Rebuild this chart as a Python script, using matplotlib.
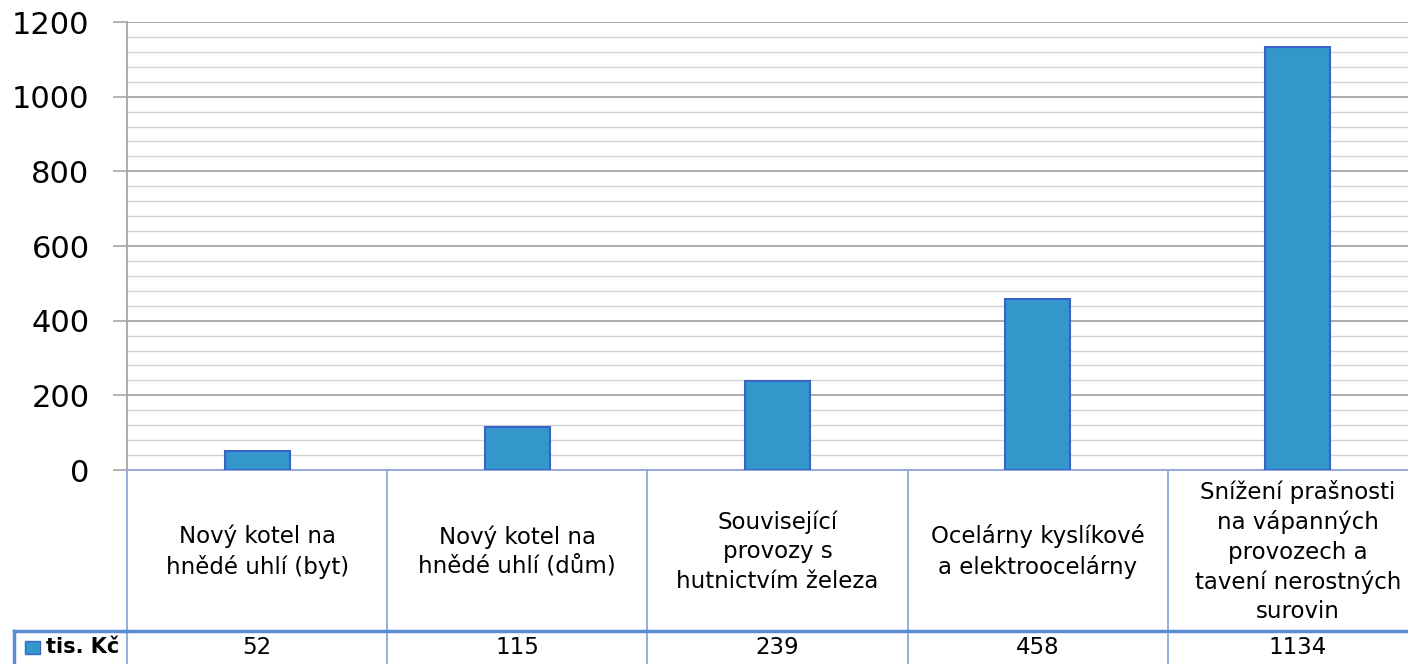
import matplotlib.pyplot as plt
import matplotlib.transforms as mtransforms
from matplotlib.patches import Rectangle

# data
categories = ['Nový kotel na\nhnědé uhlí (byt)',
              'Nový kotel na\nhnědé uhlí (dům)',
              'Související\nprovozy s\nhutnictvím železa',
              'Ocelárny kyslíkové\na elektroocelárny',
              'Snížení prašnosti\nna vápanných\nprovozech a\ntavení nerostných\nsurovin']
values = [52, 115, 239, 458, 1134]
series_name = 'tis. Kč'
yticks = [0, 200, 400, 600, 800, 1000, 1200]

bar_color = '#3397CC'
edge_color = '#3A63C8'
table_color = '#8FA8DC'

plt.rcParams['font.family'] = ['DejaVu Sans']

fig = plt.figure(figsize=(14.08, 6.64), dpi=100)
W, H = 1408, 664
# the axes runs past the right edge of the picture, like the reference
ax = fig.add_axes([127 / W, 1 - 470 / H, (1428 - 127) / W, (470 - 22) / H])

x = list(range(len(values)))
ax.bar(x, values, width=0.25, color=bar_color, edgecolor=edge_color, linewidth=1.5, zorder=3)
ax.set_xlim(-0.5, len(values) - 0.5)
ax.set_ylim(0, 1200)

ax.set_yticks(yticks)
ax.set_yticklabels([str(v) for v in yticks], fontsize=22)
ax.set_yticks(range(0, 1201, 40), minor=True)
ax.tick_params(axis='y', which='major', length=10, color='#A6A6A6', width=1.2, pad=17)
ax.tick_params(axis='y', which='minor', length=0)
ax.set_xticks([])
ax.grid(axis='y', which='major', color='#A6A6A6', linewidth=1.3, zorder=0)
ax.grid(axis='y', which='minor', color='#D2D2D2', linewidth=1.0, zorder=0)

for s in ['top', 'right']:
    ax.spines[s].set_visible(False)
ax.spines['left'].set_color('#A6A6A6')
ax.spines['left'].set_linewidth(1.3)
ax.spines['bottom'].set_color(table_color)
ax.spines['bottom'].set_linewidth(1.3)

# table below the plot: x in data units, y in figure pixels
trans = mtransforms.blended_transform_factory(ax.transData, fig.transFigure)
def fy(py):
    return 1 - py / H

y_top, y_row, y_bot = 470, 631, 664
for i in range(len(values) + 1):
    ax.plot([i - 0.5, i - 0.5], [fy(y_top), fy(y_bot)], color=table_color, lw=1.3,
            transform=trans, clip_on=False)
ax.plot([-0.5, len(values) - 0.5], [fy(y_row), fy(y_row)], color='#5B8BD0', lw=2.5,
        transform=trans, clip_on=False)

# legend cell on the left
ax.plot([14 / W, 127 / W], [fy(y_row), fy(y_row)], color='#5B8BD0', lw=2.5,
        transform=fig.transFigure, clip_on=False)
ax.plot([14 / W, 14 / W], [fy(y_row), fy(y_bot)], color='#5B8BD0', lw=2.5,
        transform=fig.transFigure, clip_on=False)
fig.patches.append(Rectangle((25 / W, fy(654)), 15 / W, 13 / H, transform=fig.transFigure,
                             facecolor=bar_color, edgecolor=edge_color, lw=1))
fig.text(46 / W, fy(647), series_name, fontsize=15, fontweight='bold', va='center', ha='left')

for i, (lab, v) in enumerate(zip(categories, values)):
    ax.text(i, fy((y_top + y_row) / 2 + 1), lab, transform=trans, ha='center', va='center',
            fontsize=16.5, linespacing=1.36, clip_on=False)
    ax.text(i, fy(647), str(v), transform=trans, ha='center', va='center',
            fontsize=16.5, clip_on=False)

fig.savefig('out.png', dpi=100)
